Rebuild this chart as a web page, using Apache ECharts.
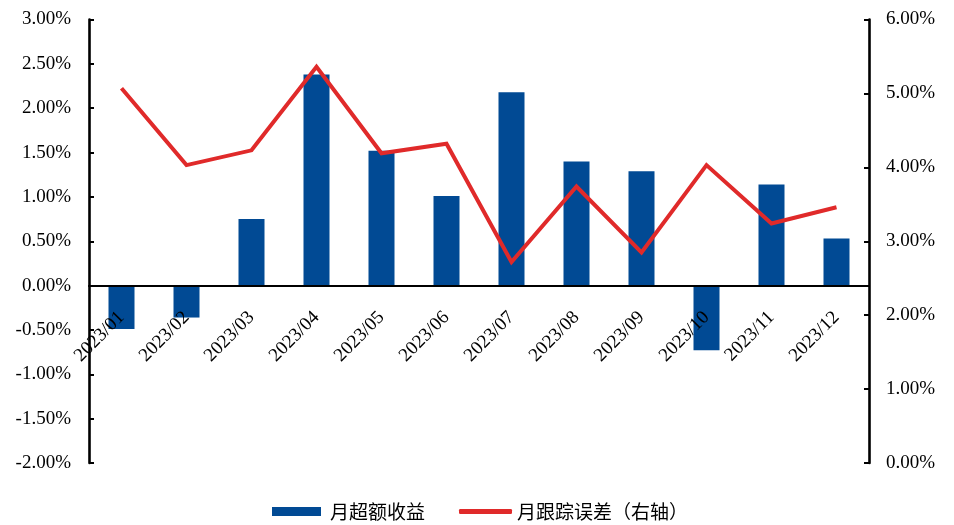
<!DOCTYPE html>
<html>
<head>
<meta charset="utf-8">
<script src="https://cdn.jsdelivr.net/npm/echarts@6/dist/echarts.min.js"></script>
<style>html,body{margin:0;padding:0;background:#fff;}#c{width:954px;height:525px;}</style>
</head>
<body>
<div id="c"></div>
<script>
var categories = ['2023/01','2023/02','2023/03','2023/04','2023/05','2023/06','2023/07','2023/08','2023/09','2023/10','2023/11','2023/12'];
var excessReturn = [-0.49, -0.36, 0.75, 2.38, 1.52, 1.01, 2.18, 1.40, 1.29, -0.73, 1.14, 0.53];
var trackingError = [5.07, 4.03, 4.23, 5.36, 4.19, 4.32, 2.72, 3.74, 2.85, 4.03, 3.24, 3.46];
var seriesNames = ['月超额收益', '月跟踪误差（右轴）'];
var leftTicks = { min: -2, max: 3, interval: 0.5 };
var rightTicks = { min: 0, max: 6, interval: 1 };

var serif = "'Liberation Serif','Times New Roman',serif";
var cjk = "'Noto Sans CJK SC',sans-serif";
function pct(v){ return v.toFixed(2) + '%'; }

var gridTop = 19.5, gridBottom = 62;
var plotH = 525 - gridTop - gridBottom;
// the category axis sits where the left value axis reads 0
var zeroOffset = plotH * (0 - leftTicks.min) / (leftTicks.max - leftTicks.min);

var chart = echarts.init(document.getElementById('c'));
chart.setOption({
  animation: false,
  backgroundColor: '#ffffff',
  grid: { left: 89, right: 85, top: gridTop, bottom: gridBottom, containLabel: false, outerBoundsMode: 'none' },
  legend: [
    {
      data: [{ name: seriesNames[0], icon: 'rect' }],
      left: 267, top: 497,
      itemWidth: 49, itemHeight: 9,
      textStyle: { fontFamily: cjk, fontSize: 19, color: '#000', padding: [0,0,0,4] }
    },
    {
      data: [{ name: seriesNames[1], icon: 'roundRect' }],
      left: 454, top: 497,
      itemWidth: 53, itemHeight: 5,
      textStyle: { fontFamily: cjk, fontSize: 19, color: '#000' }
    }
  ],
  xAxis: {
    type: 'category',
    data: categories,
    boundaryGap: true,
    z: 4,
    offset: -zeroOffset,
    axisLine: { show: true, onZero: false, lineStyle: { color: '#000', width: 2.2 } },
    axisTick: { show: false },
    axisLabel: {
      rotate: 45, margin: 29,
      fontFamily: serif, fontSize: 19, color: '#000', interval: 0
    },
    splitLine: { show: false }
  },
  yAxis: [
    {
      type: 'value', min: leftTicks.min, max: leftTicks.max, interval: leftTicks.interval, position: 'left',
      axisLine: { show: true, lineStyle: { color: '#000', width: 2.6 } },
      axisTick: { show: true, inside: true, length: 5, lineStyle: { color: '#000', width: 2 } },
      axisLabel: { formatter: pct, fontFamily: serif, fontSize: 19, color: '#000', margin: 18 },
      splitLine: { show: false }
    },
    {
      type: 'value', min: rightTicks.min, max: rightTicks.max, interval: rightTicks.interval, position: 'right',
      axisLine: { show: true, lineStyle: { color: '#000', width: 2.6 } },
      axisTick: { show: true, inside: true, length: 5, lineStyle: { color: '#000', width: 2 } },
      axisLabel: { formatter: pct, fontFamily: serif, fontSize: 19, color: '#000', margin: 17 },
      splitLine: { show: false }
    }
  ],
  series: [
    {
      name: seriesNames[0],
      type: 'bar',
      yAxisIndex: 0,
      data: excessReturn,
      barWidth: '40%',
      itemStyle: { color: '#014a94' },
      z: 2
    },
    {
      name: seriesNames[1],
      type: 'line',
      yAxisIndex: 1,
      data: trackingError,
      showSymbol: false,
      symbol: 'none',
      itemStyle: { color: '#e02a2a' },
      lineStyle: { color: '#e02a2a', width: 4, join: 'miter' },
      z: 5
    }
  ]
});
</script>
</body>
</html>
